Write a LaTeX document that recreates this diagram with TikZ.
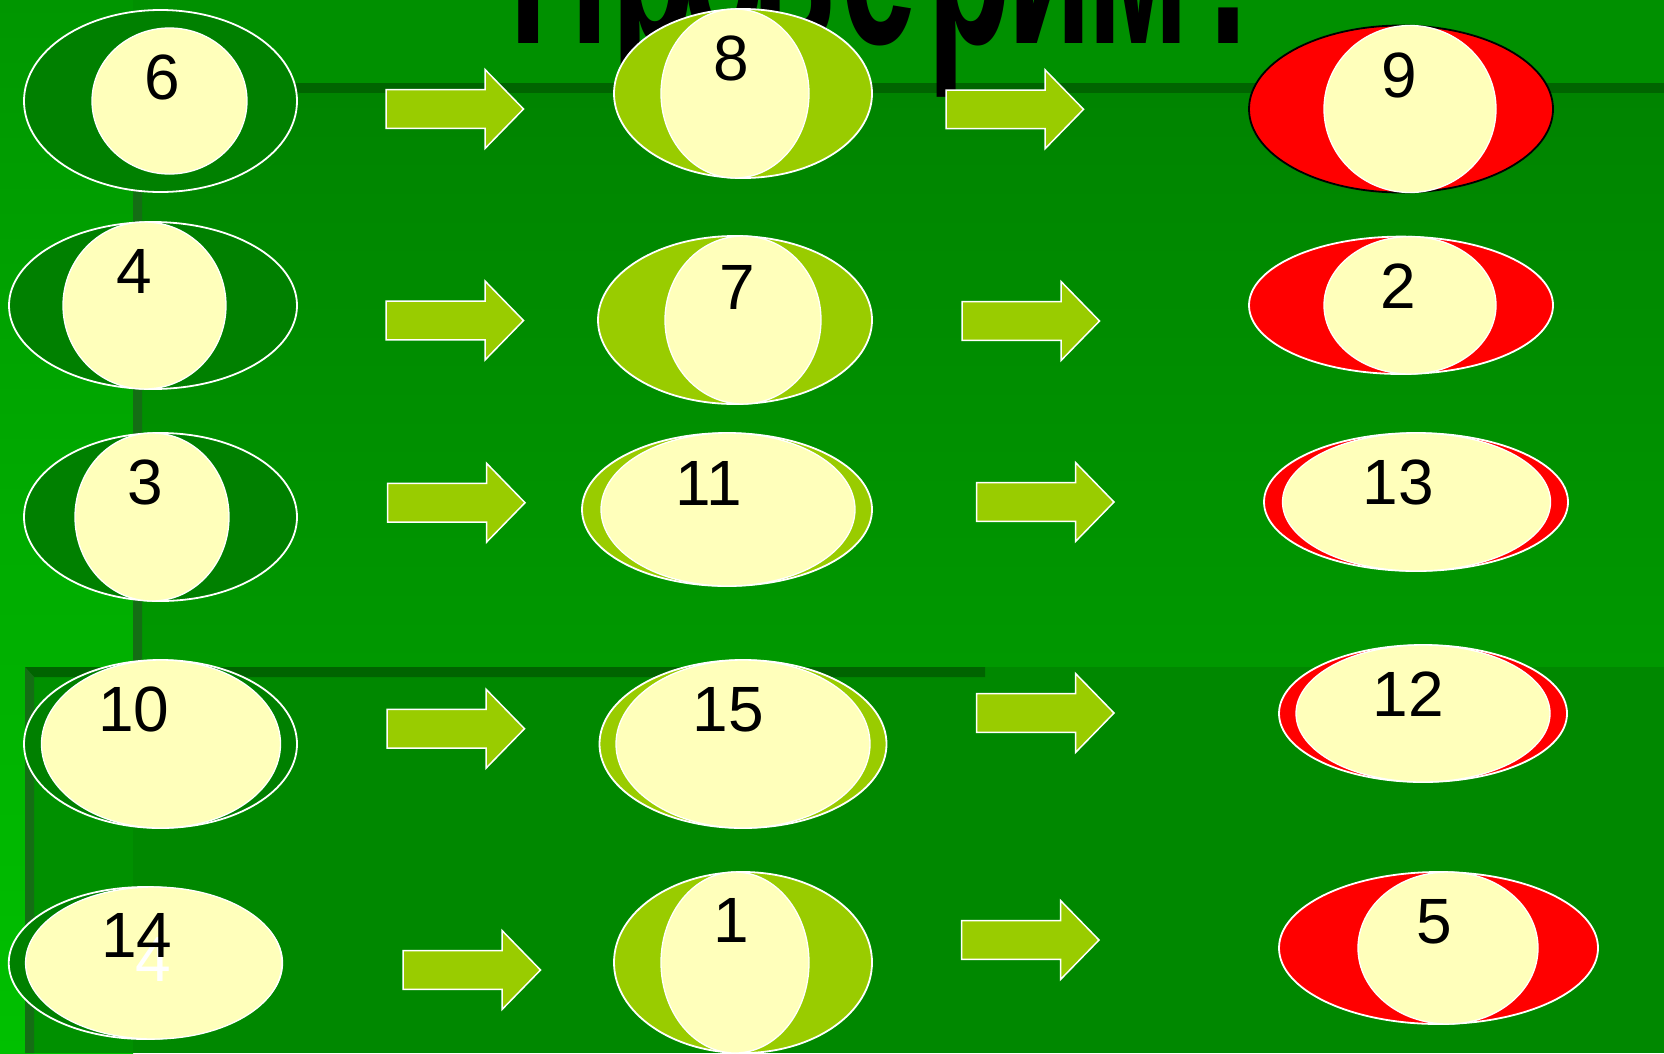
\documentclass[tikz,border=0pt]{standalone}
\usepackage{graphicx}
\usepackage{fontspec}
\setmainfont{Liberation Sans}
\usetikzlibrary{shapes.geometric}
\definecolor{dg}{RGB}{0,128,0}
\definecolor{yel}{RGB}{255,255,187}
\definecolor{lime}{RGB}{153,204,0}
\definecolor{rd}{RGB}{255,0,0}
\definecolor{bgtop}{RGB}{0,144,0}
\definecolor{shad}{RGB}{0,100,0}
\definecolor{shadside}{RGB}{20,110,20}
\definecolor{leftA}{RGB}{0,150,0}
\definecolor{leftB}{RGB}{0,192,0}
\definecolor{upA}{RGB}{0,132,0}
\definecolor{upB}{RGB}{0,152,0}
\definecolor{lowA}{RGB}{0,136,0}
\definecolor{lowB}{RGB}{0,144,0}
\newcommand\blockarrow[3]{%
  \coordinate (#1) at (#2,#3);
  \draw[barrow] (#2,#3-19.3) -- ++(99,0) -- ++(0,-20.2) -- ++(38.5,39.5)
     -- ++(-38.5,39.5) -- ++(0,-20.2) -- ++(-99,0) -- cycle;}
\newcommand\ttlchar[3]{\node[ttl] (#1) at (#2,43) {\scalebox{1}[1.88]{#3}};}
\begin{document}
\begin{tikzpicture}[x=1pt,y=-1pt,
  outer/.style={ellipse, draw=white, line width=1.8pt, inner sep=0pt},
  inner/.style={ellipse, draw=white, line width=1.3pt, fill=yel, inner sep=0pt},
  num/.style={font=\fontsize{64}{64}\selectfont, inner sep=0pt, anchor=base},
  ttl/.style={font=\bfseries\fontsize{138}{138}\selectfont, inner sep=0pt, anchor=base},
  barrow/.style={fill=lime, draw=white, line width=1.5pt, line join=miter}]
\useasboundingbox (0,0) rectangle (1664,1053);
\clip (0,0) rectangle (1664,1053);
% background
\fill[bgtop] (0,0) rectangle (1664,1053);
\shade[top color=leftA, bottom color=leftB] (0,0) rectangle (133,1053);
% upper panel
\shade[top color=upA, bottom color=upB] (142,93) rectangle (1664,667);
\fill[shad] (133,83) rectangle (1664,93);
\fill[shadside] (133,83) -- (142,93) -- (142,667) -- (133,667) -- cycle;
% lower panel
\fill[lowA] (25,667) rectangle (1664,1053);
\fill[lowB] (34,677) rectangle (133,1053);
\fill[shad] (25,667) -- (985,667) -- (985,677) -- (34,677) -- cycle;
\fill[shadside] (25,667) -- (34,677) -- (34,1053) -- (25,1053) -- cycle;
% title "Проверим:"
\ttlchar{ti1}{559}{П}
\ttlchar{ti2}{654}{р}
\ttlchar{ti3}{724}{о}
\ttlchar{ti4}{794}{в}
\ttlchar{ti5}{879}{е}
\ttlchar{ti6}{970}{р}
\ttlchar{ti7}{1049.5}{и}
\ttlchar{ti8}{1138.5}{м}
\ttlchar{ti9}{1228.5}{:}
% arrows
\blockarrow{a1}{386}{109}
\blockarrow{a2}{946}{109.3}
\blockarrow{a3}{386}{320.5}
\blockarrow{a4}{962}{321}
\blockarrow{a5}{387.5}{502.7}
\blockarrow{a6}{976.5}{502}
\blockarrow{a7}{387}{728.7}
\blockarrow{a8}{976.5}{713}
\blockarrow{a9}{403}{970}
\blockarrow{a10}{961.5}{940}
% column 1
\node[outer, fill=dg, minimum width=273pt, minimum height=182pt] (b6) at (160.5,101) {};
\node[inner, minimum width=155pt, minimum height=146pt] (b6i) at (169.5,101) {};
\node[num] (t6) at (162.5,99) {6};
\node[outer, fill=dg, minimum width=288pt, minimum height=167pt] (b4) at (153,305.5) {};
\node[inner, minimum width=163pt, minimum height=167pt] (b4i) at (144.5,305.5) {};
\node[num] (t4) at (134,293) {4};
\node[outer, fill=dg, minimum width=273pt, minimum height=168pt] (b3) at (160.5,517) {};
\node[inner, minimum width=154pt, minimum height=168pt] (b3i) at (152,517) {};
\node[num] (t3) at (145.5,504) {3};
\node[outer, fill=dg, minimum width=273pt, minimum height=168pt] (b10) at (160.5,744) {};
\node[inner, minimum width=239pt, minimum height=168pt] (b10i) at (161,744) {};
\node[num] (t10) at (134,731) {10};
\node[outer, fill=dg, minimum width=273.5pt, minimum height=152pt] (b14) at (145.5,963) {};
\node[inner, minimum width=256.5pt, minimum height=152pt] (b14i) at (153.8,963) {};
\node[num, text=white] (t14w) at (153,981) {4};
\node[num] (t14) at (137,957) {14};
% column 2
\node[outer, fill=lime, minimum width=258pt, minimum height=169pt] (b8) at (743,93.5) {};
\node[inner, minimum width=148pt, minimum height=169pt] (b8i) at (735,93.5) {};
\node[num] (t8) at (731,80) {8};
\node[outer, fill=lime, minimum width=274pt, minimum height=168pt] (b7) at (735,320) {};
\node[inner, minimum width=156pt, minimum height=168pt] (b7i) at (743,320) {};
\node[num] (t7) at (737,309) {7};
\node[outer, fill=lime, minimum width=290pt, minimum height=153pt] (b11) at (727,509.5) {};
\node[inner, minimum width=254pt, minimum height=153pt] (b11i) at (728,509.5) {};
\node[num] (t11) at (709,505) {11};
\node[outer, fill=lime, minimum width=287pt, minimum height=168pt] (b15) at (743,744) {};
\node[inner, minimum width=254pt, minimum height=168pt] (b15i) at (743,744) {};
\node[num] (t15) at (728,731) {15};
\node[outer, fill=lime, minimum width=258pt, minimum height=181pt] (b1) at (743,962.5) {};
\node[inner, minimum width=148pt, minimum height=181pt] (b1i) at (735,962.5) {};
\node[num] (t1) at (731.5,942) {1};
% column 3
\node[outer, fill=rd, draw=black, minimum width=304pt, minimum height=167pt] (b9) at (1401,109) {};
\node[inner, minimum width=172pt, minimum height=167pt] (b9i) at (1410,109) {};
\node[num] (t9) at (1399,97) {9};
\node[outer, fill=rd, minimum width=304pt, minimum height=137.4pt] (b2) at (1401,305.3) {};
\node[inner, minimum width=172pt, minimum height=137.4pt] (b2i) at (1410,305.3) {};
\node[num] (t2) at (1398,308) {2};
\node[outer, fill=rd, minimum width=304pt, minimum height=138pt] (b13) at (1416,502) {};
\node[inner, minimum width=268pt, minimum height=138pt] (b13i) at (1416.5,502) {};
\node[num] (t13) at (1398,504) {13};
\node[outer, fill=rd, minimum width=288pt, minimum height=137pt] (b12) at (1423,713.5) {};
\node[inner, minimum width=254pt, minimum height=137pt] (b12i) at (1423,713.5) {};
\node[num] (t12) at (1408,716) {12};
\node[outer, fill=rd, minimum width=319pt, minimum height=152pt] (b5) at (1438.5,948) {};
\node[inner, minimum width=180pt, minimum height=152pt] (b5i) at (1448,948) {};
\node[num] (t5) at (1434.5,943) {5};
\end{tikzpicture}
\end{document}
